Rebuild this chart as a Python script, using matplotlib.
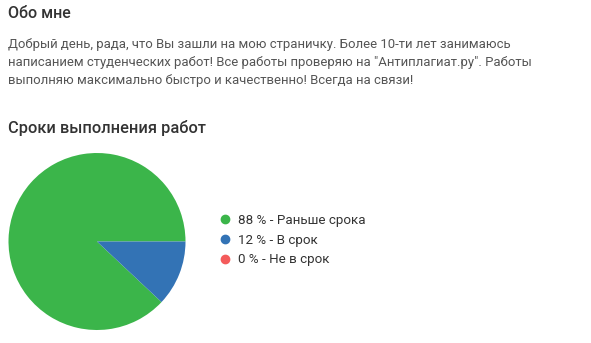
import matplotlib
matplotlib.use("Agg")
import matplotlib.pyplot as plt
from matplotlib.lines import Line2D

plt.rcParams['font.family'] = ['Roboto', 'DejaVu Sans']

# data
labels = ["Раньше срока", "В срок", "Не в срок"]
shares = [88, 12, 0]
colors = ["#3bb54a", "#3373b5", "#f45b5b"]

about_title = "Обо мне"
about_lines = [
    "Добрый день, рада, что Вы зашли на мою страничку. Более 10-ти лет занимаюсь",
    "написанием студенческих работ! Все работы проверяю на \"Антиплагиат.ру\". Работы",
    "выполняю максимально быстро и качественно! Всегда на связи!",
]
chart_title = "Сроки выполнения работ"

W, H = 591, 343
fig = plt.figure(figsize=(W / 100, H / 100), dpi=100)
fig.patch.set_facecolor("white")


def put(x, y, s, **kw):
    # x, y in pixels from top-left, y = text baseline
    fig.text(x / W, 1 - y / H, s, va="baseline", ha="left", **kw)


put(8, 18, about_title, fontsize=11.5, color="#333333", weight="medium")
for i, line in enumerate(about_lines):
    put(8, 48 + i * 18, line, fontsize=9.45, color="#555555")
put(8, 133, chart_title, fontsize=11.8, color="#333333", weight="medium")

# pie
cx, cy, r = 97, 241.5, 88.5
ax = fig.add_axes([(cx - r) / W, (H - cy - r) / H, 2 * r / W, 2 * r / H])
ax.pie(shares, colors=colors, startangle=0, counterclock=True, radius=1,
       wedgeprops=dict(linewidth=0))
ax.set_xlim(-1, 1)
ax.set_ylim(-1, 1)
ax.set_aspect("equal")
ax.axis("off")

handles = [Line2D([], [], marker="o", linestyle="none", markersize=6,
                  markerfacecolor=c, markeredgecolor=c) for c in colors]
texts = [f"{v} % - {l}" for v, l in zip(shares, labels)]
fig.legend(handles, texts, loc="upper left", bbox_to_anchor=(221 / W, 1 - 214 / H),
           frameon=False, fontsize=9.6, handlelength=0.6, handletextpad=0.7,
           labelspacing=0.5, borderpad=0, borderaxespad=0,
           labelcolor="#333333")

fig.savefig("out.png", dpi=100, facecolor="white")
